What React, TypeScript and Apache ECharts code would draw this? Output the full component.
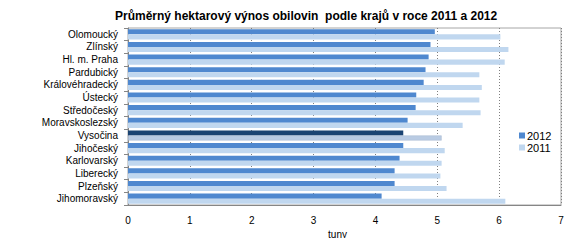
import React, { useEffect, useRef } from "react";
import * as echarts from "echarts";

const categories = [
  "Olomoucký",
  "Zlínský",
  "Hl. m. Praha",
  "Pardubický",
  "Královéhradecký",
  "Ústecký",
  "Středočeský",
  "Moravskoslezský",
  "Vysočina",
  "Jihočeský",
  "Karlovarský",
  "Liberecký",
  "Plzeňský",
  "Jihomoravský",
];
const values2012 = [4.96, 4.89, 4.86, 4.81, 4.78, 4.66, 4.65, 4.52, 4.45, 4.45, 4.39, 4.31, 4.31, 4.1];
const values2011 = [6.02, 6.15, 6.09, 5.68, 5.72, 5.68, 5.7, 5.41, 5.07, 5.12, 5.07, 5.05, 5.15, 6.1];
const highlighted = "Vysočina";
const titleText = "Průměrný hektarový výnos obilovin  podle krajů v roce 2011 a 2012";
const axisName = "tuny";

const FONT = "'Liberation Sans', Arial, sans-serif";

export default function App() {
  const ref = useRef<HTMLDivElement>(null);
  useEffect(() => {
    if (!ref.current) return;
    const chart = echarts.init(ref.current, null, { renderer: "svg" });
    const d2012 = values2012.map((v, i) =>
      categories[i] === highlighted ? { value: v, itemStyle: { color: "#1B4472" } } : v
    );
    const d2011 = values2011.map((v, i) =>
      categories[i] === highlighted
        ? { value: v, itemStyle: { color: "#B9CBE3", borderColor: "#A9B9CF", borderWidth: 0.5 } }
        : v
    );
    chart.setOption({
      animation: false,
      textStyle: { fontFamily: FONT },
      title: {
        text: titleText,
        left: 110,
        top: 5,
        textStyle: { fontFamily: FONT, fontSize: 12, fontWeight: "bold", color: "#000" },
      },
      legend: {
        orient: "vertical",
        left: 514,
        top: 125,
        itemWidth: 6,
        itemHeight: 6,
        itemGap: 1,
        icon: "rect",
        data: ["2012", "2011"],
        textStyle: { fontFamily: FONT, fontSize: 11, color: "#000", padding: [0, 0, 0, -3] },
      },
      grid: {
        left: 128,
        right: 16,
        top: 28,
        bottom: 41,
        show: true,
        borderColor: "#A6A6A6",
        borderWidth: 1,
      },
      xAxis: {
        type: "value",
        min: 0,
        max: 7,
        interval: 1,
        name: axisName,
        nameLocation: "middle",
        nameGap: 22,
        nameTextStyle: { fontFamily: FONT, fontSize: 10, color: "#000", padding: [0, 14, 0, 0] },
        axisLine: { show: true, lineStyle: { color: "#868686" } },
        axisTick: { show: false },
        axisLabel: { fontFamily: FONT, fontSize: 10, color: "#000", margin: 10 },
        splitLine: { show: true, lineStyle: { color: "#7F7F7F", type: [1, 2], width: 1 } },
      },
      yAxis: {
        type: "category",
        inverse: true,
        data: categories,
        axisLine: { show: true, lineStyle: { color: "#868686" } },
        axisTick: { show: true, length: 4, interval: 0, lineStyle: { color: "#868686" } },
        axisLabel: { fontFamily: FONT, fontSize: 10, color: "#000", margin: 10, interval: 0 },
        splitLine: { show: false },
      },
      series: [
        {
          name: "2012",
          type: "bar",
          data: d2012,
          itemStyle: { color: "#4F88CF" },
          barGap: "0%",
          barCategoryGap: "20%",
        },
        {
          name: "2011",
          type: "bar",
          data: d2011,
          itemStyle: { color: "#C0D7EF" },
          barGap: "0%",
          barCategoryGap: "20%",
        },
      ],
    });
    return () => chart.dispose();
  }, []);
  return <div ref={ref} style={{ width: 577, height: 246, margin: -8 }} />;
}
